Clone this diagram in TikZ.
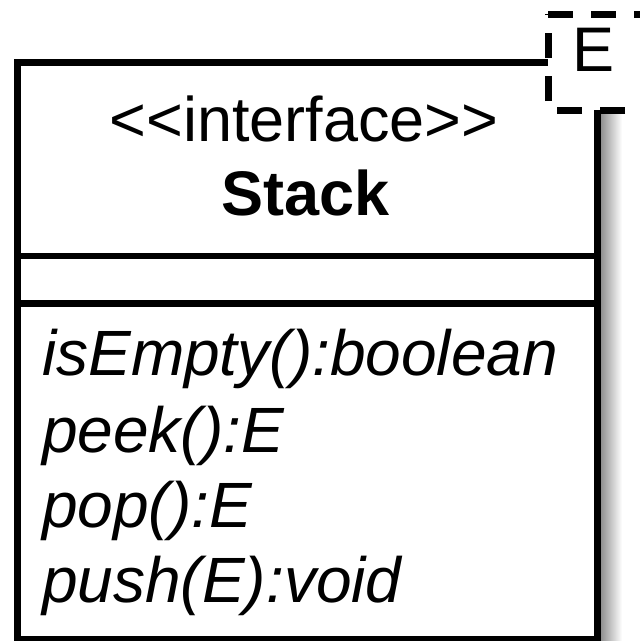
\documentclass[tikz,border=0pt]{standalone}
\usepackage{fontspec}
\setmainfont{Liberation Sans}
\begin{document}
\begin{tikzpicture}[x=1pt,y=-1pt,
  boxline/.style={line width=7pt, line join=miter},
  divline/.style={line width=6.5pt},
  dashbox/.style={line width=7pt, dash pattern=on 25pt off 18pt, fill=white},
  txt/.style={inner sep=0pt, font=\fontsize{63}{75}\selectfont},
  optxt/.style={txt, anchor=base west, font=\fontsize{64}{75}\selectfont\itshape}]
\useasboundingbox (0,0) rectangle (640,641);
\fill[white] (0,0) rectangle (640,641);
% shadow
\shade[left color=black!45, right color=white] (600,70) rectangle (622,645);
% class box
\coordinate (tl) at (17.5,62.5);
\coordinate (br) at (597,639);
\draw[boxline, fill=white] (tl) rectangle (br);
\coordinate (d1l) at (17.5,256);
\coordinate (d1r) at (597,256);
\coordinate (d2l) at (17.5,303.5);
\coordinate (d2r) at (597,303.5);
\draw[divline] (d1l) -- (d1r);
\draw[divline] (d2l) -- (d2r);
\node[txt, anchor=base] (stereo) at (304,141) {<\kern0pt<\kern0pt interface>\kern0pt>};
\node[txt, anchor=base, font=\fontsize{63}{75}\selectfont\bfseries] (name) at (306,215) {Stack};
\node[optxt] (op1) at (42,375) {isEmpty():boolean};
\node[optxt] (op2) at (42,452) {peek():E};
\node[optxt] (op3) at (42,527) {pop():E};
\node[optxt] (op4) at (42,602) {push(E):void};
% template parameter box
\draw[dashbox] (548,14) -- (646,14) -- (646,110) -- (548,110) -- cycle;
\node[txt, anchor=base] (tparam) at (594,71) {E};
\end{tikzpicture}
\end{document}
